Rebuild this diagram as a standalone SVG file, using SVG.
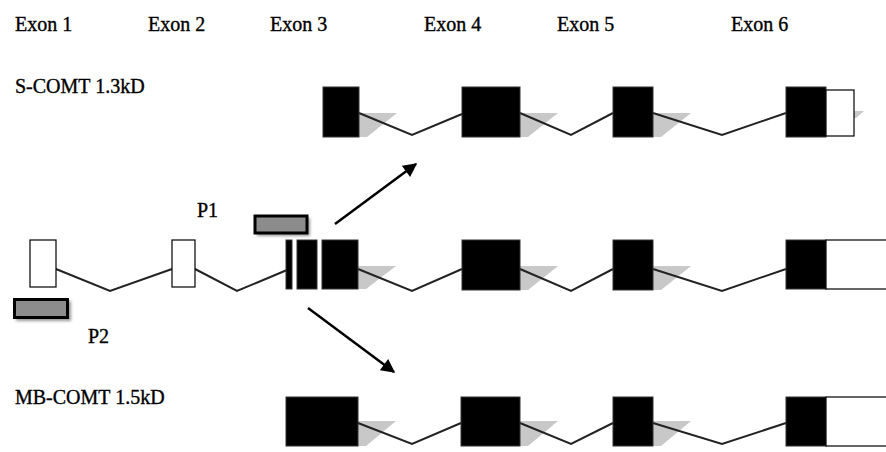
<svg xmlns="http://www.w3.org/2000/svg" width="886" height="452" viewBox="0 0 886 452">
  <style>
    .lbl { font-family: "Liberation Serif", "Times New Roman", serif; font-size: 20px; fill: #000; stroke: #000; stroke-width: 0.35; }
    .blk { fill: #000; stroke: #333; stroke-width: 1; }
    .wht { fill: #fff; stroke: #000; stroke-width: 1.2; }
    .shd { fill: #c8c8c8; }
    .intron { fill: none; stroke: #222; stroke-width: 2; stroke-linejoin: miter; }
    .arrow { fill: none; stroke: #000; stroke-width: 2.5; marker-end: url(#head); }
    .probe { fill: #8c8c8c; stroke: #000; stroke-width: 3; }
    .probe-shd { fill: #9a9a9a; filter: url(#soft); }
  </style>
  <defs>
    <marker id="head" viewBox="0 0 10 10" refX="9" refY="5" markerWidth="6" markerHeight="5.5" orient="auto" markerUnits="strokeWidth">
      <path d="M0,0 L10,5 L0,10 z" fill="#000"/>
    </marker>
    <filter id="soft" x="-20%" y="-50%" width="140%" height="200%">
      <feGaussianBlur stdDeviation="1.5"/>
    </filter>
  </defs>

  <rect width="886" height="452" fill="#fff"/>

  <!-- exon headings -->
  <g id="headings">
    <text class="lbl" x="15" y="31">Exon 1</text>
    <text class="lbl" x="148" y="31">Exon 2</text>
    <text class="lbl" x="270" y="31">Exon 3</text>
    <text class="lbl" x="424" y="31">Exon 4</text>
    <text class="lbl" x="557" y="31">Exon 5</text>
    <text class="lbl" x="731" y="31">Exon 6</text>
  </g>

  <g id="transcript-labels">
    <text class="lbl" x="15" y="93">S-COMT 1.3kD</text>
    <text class="lbl" x="15" y="404">MB-COMT 1.5kD</text>
  </g>

  <!-- soft shading under the exon edges -->
  <g id="shading">
    <polygon class="shd" points="359,113 397,113 367,137 359,137"/>
    <polygon class="shd" points="520,113 558,113 528,137 520,137"/>
    <polygon class="shd" points="653,113 691,113 661,137 653,137"/>
    <polygon class="shd" points="854,111 864,111 856,118 854,118"/>
    <polygon class="shd" points="358,266 396,266 366,289 358,289"/>
    <polygon class="shd" points="520,266 558,266 528,290 520,290"/>
    <polygon class="shd" points="653,266 691,266 661,290 653,290"/>
    <polygon class="shd" points="358,421 396,421 366,446 358,446"/>
    <polygon class="shd" points="520,421 558,421 528,446 520,446"/>
    <polygon class="shd" points="653,421 691,421 661,446 653,446"/>
  </g>

  <!-- introns and arrows -->
  <g id="connectors">
    <polyline class="intron" points="359,113 412,135 462,114"/>
    <polyline class="intron" points="520,113 571,135 613,113"/>
    <polyline class="intron" points="653,113 722,135 786,113"/>

    <polyline class="intron" points="56,269 110,291 172,269"/>
    <polyline class="intron" points="195,269 237,291 287,270"/>
    <polyline class="intron" points="358,269 412,291 462,269"/>
    <polyline class="intron" points="520,269 571,291 613,269"/>
    <polyline class="intron" points="653,269 722,291 786,269"/>

    <polyline class="intron" points="358,423 412,444 461,423"/>
    <polyline class="intron" points="520,423 571,444 613,423"/>
    <polyline class="intron" points="653,423 722,444 786,423"/>

    <line class="arrow" x1="335" y1="224" x2="416" y2="164"/>
    <line class="arrow" x1="308" y1="308" x2="394" y2="372"/>
  </g>

  <!-- S-COMT transcript -->
  <g id="s-comt-exon3"><rect class="blk" x="323" y="87" width="36" height="50"/></g>
  <g id="s-comt-exon4"><rect class="blk" x="462" y="87" width="58" height="50"/></g>
  <g id="s-comt-exon5"><rect class="blk" x="613" y="87" width="40" height="50"/></g>
  <g id="s-comt-exon6">
    <rect class="blk" x="786" y="87" width="40" height="50"/>
    <rect class="wht" x="826" y="90" width="28" height="46"/>
  </g>

  <!-- gene -->
  <g id="gene-exon1"><rect class="wht" x="30" y="240" width="26" height="47"/></g>
  <g id="gene-exon2"><rect class="wht" x="172" y="240" width="23" height="47"/></g>
  <g id="gene-exon3">
    <rect class="blk" x="286" y="240" width="6" height="49"/>
    <rect class="blk" x="297" y="240" width="20" height="49"/>
    <rect class="blk" x="322" y="240" width="36" height="49"/>
  </g>
  <g id="gene-exon4"><rect class="blk" x="462" y="240" width="58" height="50"/></g>
  <g id="gene-exon5"><rect class="blk" x="613" y="240" width="40" height="50"/></g>
  <g id="gene-exon6">
    <rect class="blk" x="786" y="240" width="40" height="49"/>
    <rect class="wht" x="826" y="240" width="62" height="49"/>
  </g>

  <!-- promoters -->
  <g id="promoter-p1">
    <rect class="probe-shd" x="257" y="218" width="53" height="18"/>
    <rect class="probe" x="255" y="216" width="52" height="17"/>
    <text class="lbl" x="197" y="217">P1</text>
  </g>
  <g id="promoter-p2">
    <rect class="probe-shd" x="16" y="301" width="55" height="20"/>
    <rect class="probe" x="14.5" y="299.5" width="53" height="18"/>
    <text class="lbl" x="88" y="343">P2</text>
  </g>

  <!-- MB-COMT transcript -->
  <g id="mb-comt-exon3"><rect class="blk" x="286" y="397" width="72" height="49"/></g>
  <g id="mb-comt-exon4"><rect class="blk" x="461" y="397" width="59" height="49"/></g>
  <g id="mb-comt-exon5"><rect class="blk" x="613" y="397" width="40" height="49"/></g>
  <g id="mb-comt-exon6">
    <rect class="blk" x="786" y="397" width="40" height="49"/>
    <rect class="wht" x="826" y="397" width="62" height="49"/>
  </g>
</svg>
